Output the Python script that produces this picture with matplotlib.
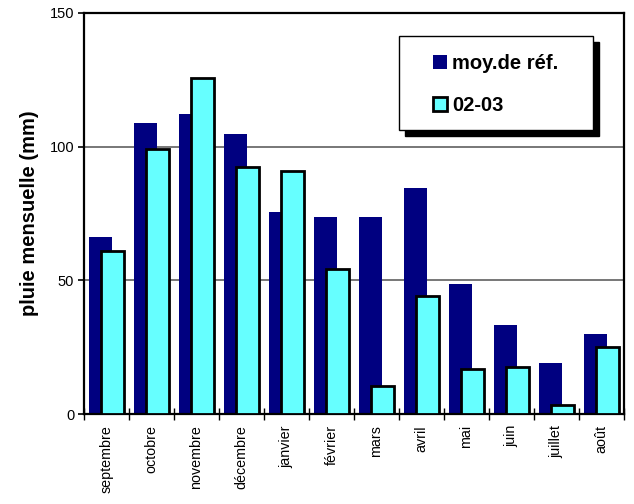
import matplotlib
matplotlib.use("Agg")
import matplotlib.pyplot as plt
from matplotlib.patches import Rectangle
import numpy as np

plt.rcParams['font.family'] = ['Liberation Sans', 'DejaVu Sans']

months = ["septembre", "octobre", "novembre", "décembre", "janvier", "février",
          "mars", "avril", "mai", "juin", "juillet", "août"]
moy_ref = [66.2, 108.9, 112.2, 104.8, 75.6, 73.7, 73.7, 84.5, 48.6, 33.3, 19.1, 29.9]
annee_0203 = [60.8, 99.1, 125.5, 92.4, 90.9, 54.2, 10.5, 44.1, 16.8, 17.6, 3.4, 25.2]
y_ticks = [0, 50, 100, 150]
series_names = ["moy.de réf.", "02-03"]

navy = "#000080"
cyan = "#66FFFF"

fig = plt.figure(figsize=(6.34, 5.04), dpi=100)
ax = fig.add_axes([84/634, 1 - 414/504, 540/634, 401/504])

x = np.arange(len(months))
w = 0.51
b1 = ax.bar(x - 0.125, moy_ref, width=w, color=navy, edgecolor="none", zorder=2,
            label=series_names[0])
b2 = ax.bar(x + 0.125, annee_0203, width=w, color=cyan, edgecolor="black",
            linewidth=2.0, zorder=3, label=series_names[1])

ax.set_xlim(-0.5, len(months) - 0.5)
ax.set_ylim(0, 150)
ax.set_yticks(y_ticks)
ax.set_yticklabels([str(t) for t in y_ticks], fontsize=10.5)
for t in y_ticks[1:3]:
    ax.axhline(t, color="#606060", linewidth=1.2, zorder=1)

ax.set_xticks(x)
ax.set_xticklabels(months, rotation=90, fontsize=10.3)
ax.set_xticks(np.arange(-0.5, len(months)), minor=True)
ax.tick_params(axis="x", which="major", length=0, pad=8)
ax.tick_params(axis="x", which="minor", length=9, width=1, direction="inout")
ax.tick_params(axis="y", length=4, width=1.2, direction="out", pad=3)

for s in ax.spines.values():
    s.set_linewidth(1.6)
    s.set_color("black")

ax.set_ylabel("pluie mensuelle (mm)", fontsize=14.5, fontweight="bold", labelpad=8)

# legend box with solid shadow
lx0, lx1 = (399 - 84) / 540, (593 - 84) / 540
ly0, ly1 = (414 - 130) / 401, (414 - 36) / 401
dx, dy = 6 / 540, 6 / 401
ax.add_patch(Rectangle((lx0 + dx, ly0 - dy), lx1 - lx0, ly1 - ly0, transform=ax.transAxes,
                       facecolor="black", edgecolor="black", zorder=5))
ax.add_patch(Rectangle((lx0, ly0), lx1 - lx0, ly1 - ly0, transform=ax.transAxes,
                       facecolor="white", edgecolor="black", linewidth=1, zorder=6))
leg = ax.legend(handles=[b1, b2], loc="upper left",
                bbox_to_anchor=((433 - 84) / 540, (414 - 54) / 401),
                frameon=False, prop={"size": 14.5, "weight": "bold"},
                handlelength=0.7, handleheight=0.7, handletextpad=0.25,
                labelspacing=1.15, borderpad=0, borderaxespad=0)
leg.set_zorder(7)

fig.savefig("out.png", dpi=100)
